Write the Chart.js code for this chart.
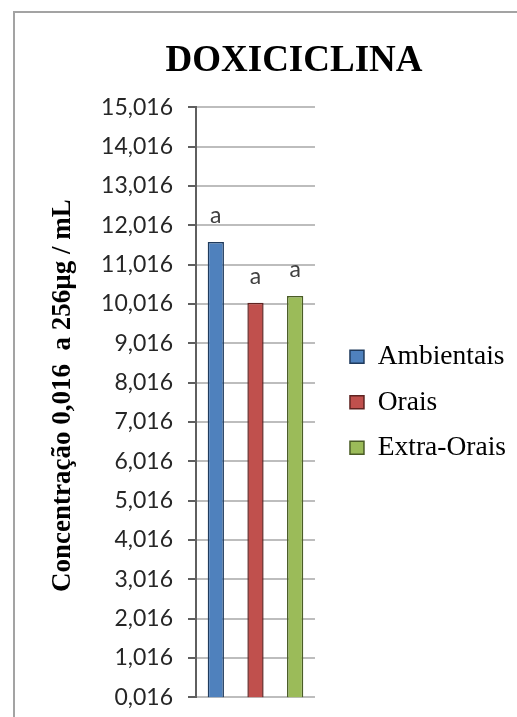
<!DOCTYPE html>
<html>
<head>
<meta charset="utf-8">
<script src="https://cdn.jsdelivr.net/npm/chart.js@4/dist/chart.umd.min.js"></script>
<style>
  html, body { margin: 0; padding: 0; background: #fff; overflow: hidden; }
  #frame { position: absolute; left: 13px; top: 11px; width: 700px; height: 900px;
           border-left: 2px solid #a3a3a3; border-top: 2px solid #a3a3a3; }
  #chart { position: absolute; left: 0; top: 0; }
</style>
</head>
<body>
<div id="frame"></div>
<canvas id="chart" width="578" height="726"></canvas>
<script>
const groups = ['Ambientais', 'Orais', 'Extra-Orais'];
const values = [11.59, 10.05, 10.22];
const sigLabels = ['a', 'a', 'a'];
const yTicks = [0.016, 1.016, 2.016, 3.016, 4.016, 5.016, 6.016, 7.016,
                8.016, 9.016, 10.016, 11.016, 12.016, 13.016, 14.016, 15.016];
const yTickLabels = ['0,016', '1,016', '2,016', '3,016', '4,016', '5,016', '6,016', '7,016',
                     '8,016', '9,016', '10,016', '11,016', '12,016', '13,016', '14,016', '15,016'];

const fills = ['#4f81bd', '#c0504d', '#9bbb59'];
const edges = ['#1f3a5c', '#5e2321', '#4a5c26'];

// little "a" letters above each bar
const sigPlugin = {
  id: 'sig',
  afterDatasetsDraw(chart) {
    const ctx = chart.ctx;
    ctx.save();
    ctx.font = '23px Lato';
    ctx.fillStyle = '#404040';
    ctx.textAlign = 'center';
    ctx.textBaseline = 'alphabetic';
    chart.data.datasets.forEach((ds, i) => {
      const bar = chart.getDatasetMeta(i).data[0];
      ctx.fillText(sigLabels[i], bar.x, bar.y - 19);
    });
    ctx.restore();
  }
};

// empty vertical box used only as spacing
const spacer = (pos, w, weight) => ({
  type: 'linear', position: pos, display: true, weight: weight,
  ticks: { display: false }, grid: { display: false }, border: { display: false },
  afterFit: s => { s.width = w; }
});

new Chart(document.getElementById('chart'), {
  type: 'bar',
  data: {
    labels: [''],
    datasets: groups.map((g, i) => ({
      label: g,
      data: [values[i]],
      backgroundColor: fills[i],
      borderColor: edges[i],
      borderWidth: 1.5,
      categoryPercentage: 1,
      barPercentage: 0.41
    }))
  },
  options: {
    responsive: false,
    animation: false,
    layout: { padding: { left: 30, top: 20, right: 20, bottom: 20 } },
    plugins: {
      title: {
        display: true,
        text: 'DOXICICLINA',
        color: '#000',
        font: { family: 'Liberation Serif', size: 37, weight: 'bold', lineHeight: 1.2 },
        padding: { top: 19, bottom: 24 }
      },
      legend: {
        position: 'right',
        align: 'center',
        fullSize: false,
        maxWidth: 260,
        labels: {
          color: '#000',
          font: { family: 'Liberation Serif', size: 27.5 },
          boxWidth: 14,
          boxHeight: 13,
          padding: 18
        }
      },
      tooltip: { enabled: false }
    },
    scales: {
      x: { display: false },
      y: {
        type: 'linear',
        min: 0.016,
        max: 15.016,
        afterBuildTicks: s => { s.ticks = yTicks.map(v => ({ value: v })); },
        afterFit: s => { s.width = 166; },
        ticks: {
          callback: (v, i) => yTickLabels[i],
          color: '#262626',
          font: { family: 'Lato', size: 23 },
          padding: 15
        },
        grid: { color: '#bdbdbd', lineWidth: 2, tickColor: '#5f5f5f', tickLength: 8, tickWidth: 2 },
        border: { color: '#5f5f5f', width: 2 },
        title: {
          display: true,
          text: '  Concentração 0,016  a 256µg / mL',
          color: '#000',
          font: { family: 'Liberation Serif', size: 27, weight: 'bold', lineHeight: 1.2 },
          padding: { top: 17, bottom: 10 }
        }
      },
      gap: spacer('right', 17, 0),
      edge: spacer('right', 42, 2000)
    }
  },
  plugins: [sigPlugin]
});
</script>
</body>
</html>
